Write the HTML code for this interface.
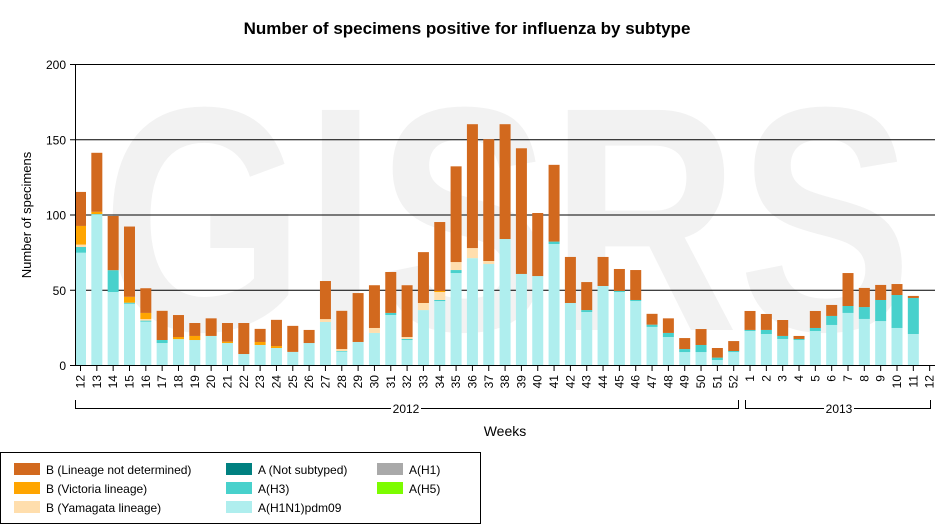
<!DOCTYPE html>
<html><head><style>body{margin:0;background:#fff}svg{display:block;font-family:"Liberation Sans",Arial,sans-serif}</style></head>
<body>
<svg id="s" width="935" height="529" xmlns="http://www.w3.org/2000/svg">
<text x="467" y="34" text-anchor="middle" font-size="17" font-weight="bold">Number of specimens positive for influenza by subtype</text>
<text x="102" y="330" font-family="Liberation Sans, sans-serif" font-size="320" font-weight="bold" fill="#f2f2f2" textLength="810" lengthAdjust="spacingAndGlyphs">GISRS</text>
<g id="grid"></g>
<g id="bars"></g>
<line x1="75.5" y1="64" x2="75.5" y2="365" stroke="#000"/>
<line x1="75" y1="365.5" x2="935" y2="365.5" stroke="#000"/>
<text x="31" y="215" font-size="13" text-anchor="middle" transform="rotate(-90 31 215)">Number of specimens</text>
<g id="xl" font-size="12"></g>
<path d="M75.5 400V408.5H738.5V400M745.5 400V408.5H930.5V400" fill="none" stroke="#000"/>
<rect x="391" y="402" width="30" height="12" fill="#fff"/><text x="406" y="413" font-size="12" text-anchor="middle">2012</text>
<rect x="824" y="402" width="30" height="12" fill="#fff"/><text x="839" y="413" font-size="12" text-anchor="middle">2013</text>
<text x="505" y="436" font-size="14" text-anchor="middle">Weeks</text>
<rect x="0.5" y="452.5" width="480" height="71" fill="#fff" stroke="#000"/>
<g font-size="12">
<rect x="14" y="463" width="26" height="12" fill="#d2691e"/><text x="46" y="474">B (Lineage not determined)</text>
<rect x="14" y="482" width="26" height="12" fill="#ffa500"/><text x="46" y="493">B (Victoria lineage)</text>
<rect x="14" y="501" width="26" height="12" fill="#ffdead"/><text x="46" y="512">B (Yamagata lineage)</text>
<rect x="226" y="463" width="26" height="12" fill="#008080"/><text x="258" y="474">A (Not subtyped)</text>
<rect x="226" y="482" width="26" height="12" fill="#48d1cc"/><text x="258" y="493">A(H3)</text>
<rect x="226" y="501" width="26" height="12" fill="#afeeee"/><text x="258" y="512">A(H1N1)pdm09</text>
<rect x="377" y="463" width="26" height="12" fill="#a9a9a9"/><text x="409" y="474">A(H1)</text>
<rect x="377" y="482" width="26" height="12" fill="#7cfc00"/><text x="409" y="493">A(H5)</text>
</g>
</svg>
<script>
const NS="http://www.w3.org/2000/svg";
function el(p,t,a){const e=document.createElementNS(NS,t);for(const k in a)e.setAttribute(k,a[k]);p.appendChild(e);return e;}
const g=document.getElementById('grid');
for(let v=0;v<=200;v+=50){const y=365-v*1.505;if(v>0)el(g,'line',{x1:75,x2:935,y1:y+.5,y2:y+.5,stroke:'#000'});
el(g,'line',{x1:70,x2:75,y1:y+.5,y2:y+.5,stroke:'#000'});
const t=el(g,'text',{x:66,y:y+5,'font-size':12,'text-anchor':'end'});t.textContent=v;}
const D=[[74.6,78.4,80,92.4,115],[100,100.3,100.3,101.8,141],[48.5,63,63,63,99],[40.7,41.4,41.4,45.3,92],[28.8,29.5,30.5,34.6,51],
[14.6,16.6,16.6,16.6,36],[17.2,17.2,17.2,18.6,33.2],[16.6,16.6,16.6,19.3,27.9],[19.3,19.3,19.3,19.3,31],[14.6,14.6,14.6,15.5,27.9],
[7.3,7.3,7.3,7.3,27.9],[13.3,13.3,13.3,15.3,24],[11.3,11.3,11.3,12.6,30],[8.7,8.7,8.7,8.7,26],[14.6,14.6,14.6,14.6,23.3],
[28.6,28.6,30.5,30.5,55.8],[8.9,9.3,10.6,10.6,36],[15.3,15.3,15.3,15.3,47.8],[21.3,21.3,24.6,24.6,53],[33.2,34.6,34.6,34.6,61.8],
[16.6,17.3,18.6,18.6,53],[36.5,36.5,41.2,41.2,75],[42.5,43.2,48.5,49.2,95],[61.1,63.1,68.4,68.4,132],[71,71,77.7,77.7,160],
[67.1,67.1,69.1,69.1,150],[83.7,83.7,83.7,83.7,160],[60.5,60.5,60.5,60.5,144],[59.1,59.1,59.1,59.1,101],[80.4,82,82,82,133],
[41.2,41.2,41.2,41.2,71.8],[35.2,36.5,36.5,36.5,55.1],[52.5,52.5,52.5,52.5,71.8],[48.5,49.2,49.2,49.2,63.8],[42.5,43.2,43.2,43.2,63.1],
[25.3,26.8,26.8,26.8,34],[18.6,21.3,21.3,21.3,31],[8.6,10.6,10.6,10.6,17.9],[8.6,13.3,13.3,13.3,23.9],[3.3,4.9,4.9,4.9,11.3],[8.6,9.3,9.3,9.3,15.9],
[22.6,23.3,23.3,23.3,35.9],[20.6,23.3,23.3,23.3,33.9],[17.3,19.3,19.3,19.3,29.9],[16.6,17.3,17.3,17.3,19.3],[22.6,24.6,24.6,24.6,35.9],
[26.6,32.6,32.6,32.6,39.9],[34.6,39.2,39.2,39.2,61.1],[30.6,38.5,38.5,38.5,51.2],[29.2,43.2,43.2,43.2,53.2],[24.6,46.5,46.5,46.5,53.8],[20.6,44.5,44.5,44.5,45.9],[0,0,0,0,0]];
const C=['#afeeee','#48d1cc','#ffdead','#ffa500','#d2691e'];
const b=document.getElementById('bars'),xl=document.getElementById('xl');
const labels=[];for(let w=12;w<=52;w++)labels.push(w);for(let w=1;w<=12;w++)labels.push(w);
D.forEach((d,i)=>{const cx=80.5+i*16.33;let prev=0;
d.forEach((v,j)=>{if(v>prev){const y1=365-v*1.505,y0=365-prev*1.505;el(b,'rect',{x:cx-5.5,y:y1,width:11,height:y0-y1,fill:C[j]});}prev=Math.max(prev,v);});
el(xl,'line',{x1:cx,x2:cx,y1:365,y2:371,stroke:'#000'});
const t=el(xl,'text',{x:cx+4,y:375,'text-anchor':'end',transform:`rotate(-90 ${cx+4} 375)`});t.textContent=labels[i];});
</script>
</body></html>
